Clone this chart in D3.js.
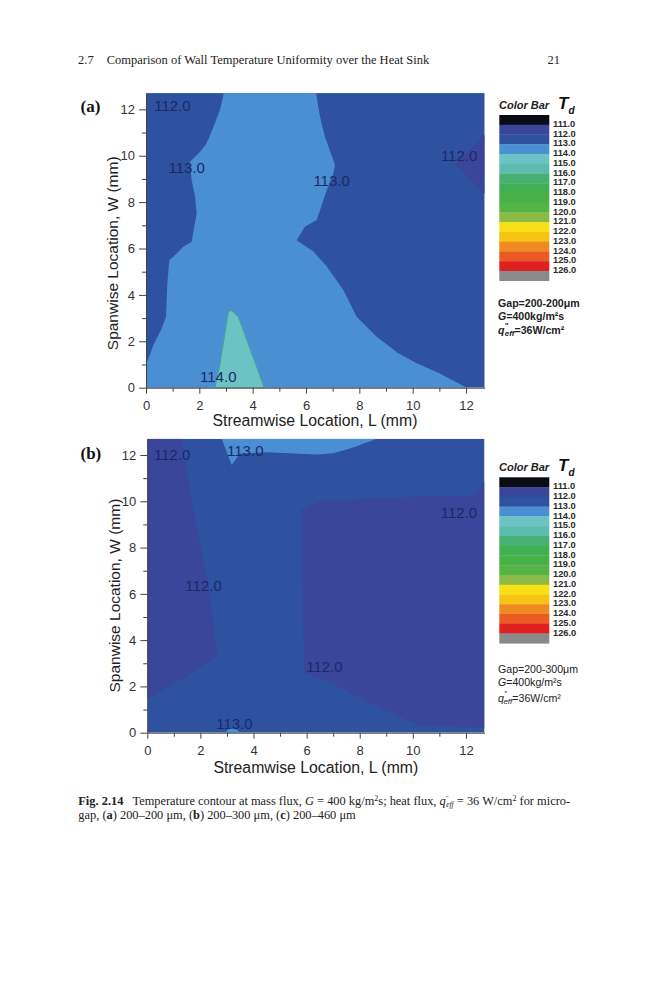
<!DOCTYPE html>
<html><head><meta charset="utf-8">
<script src="https://cdn.jsdelivr.net/npm/d3@7/dist/d3.min.js"></script>
<style>body{margin:0;background:#fff} svg{display:block}</style>
</head><body>
<svg id="c" width="659" height="1000"></svg>
<script>
// ---------------- DATA ----------------
const xTicks = [0, 2, 4, 6, 8, 10, 12];
const yTicks = [0, 2, 4, 6, 8, 10, 12];
const minorTicks = [1, 3, 5, 7, 9, 11];
const axisMax = 12.7;                       // mm, extent of both axes
const colorLevels = [111,112,113,114,115,116,117,118,119,120,121,122,123,124,125,126];
const bandColors = ['#0b0b14','#3a469a','#2e52a0','#4a8fd2','#6cc3c4','#5dbcb0','#47b073','#41b052',
                    '#48b14a','#55b446','#8bbb45','#f7e116','#f6c412','#ef8a22','#ea5a22','#df2020','#8a8a8a'];

// Panel (a): Gap 200-200 µm  — region boundary vertices [L (mm), W (mm)]
const aBackgroundT = 112.5;
const aRegion113 = [[0,0],[0,0.98],[0.3,1.9],[0.59,2.56],[0.75,3.06],[0.8,4.5],[0.875,5.5],[1.09,5.72],[1.4,6.08],
  [1.71,6.29],[1.9,7.51],[1.84,8.23],[1.71,8.95],[1.65,9.74],[2.03,10.17],[2.27,10.53],[2.53,11.25],[2.77,11.97],
  [2.92,12.7],[6.375,12.7],[6.525,11.68],[6.71,10.82],[7.09,9.6],[7.03,9.24],[6.78,8.52],[6.4,7.23],[5.96,6.94],
  [5.65,6.36],[6.29,5.86],[6.78,5.22],[7.4,4.21],[7.9,3.06],[8.65,2.2],[9.46,1.48],[10.15,1.05],[11.0,0.62],[12.03,0]];
const aRegion114 = [[2.59,0],[2.78,1.05],[3.09,3.28],[3.21,3.32],[3.46,3.06],[4.43,0]];
const aRegion111 = [[12.7,10.9],[11.59,9.64],[12.7,8.35]];
const aRegionT = [113.5, 114.5, 111.5];
const aLabelText = ['112.0','113.0','113.0','112.0','114.0'];
const aLabelL = [0.99, 1.525, 6.96, 11.74, 2.71];
const aLabelW = [12.18, 9.5, 8.92, 10.03, 0.47];
const aInfo = ['Gap=200-200\u03bcm', 'G', '=400kg/m\u00b2s', '=36W/cm\u00b2'];

// Panel (b): Gap 200-300 µm
const bBackgroundT = 112.5;
const bRegionLeft111 = [[0,12.7],[1.30,12.7],[1.54,10.85],[1.92,8.54],[2.30,6.38],[2.55,4.22],[2.64,3.3],[1.5,2.45],[0,1.45]];
const bRegionRight111 = [[5.81,9.65],[6.5,10.0],[9.9,10.2],[12.3,10.25],[12.7,10.85],[12.7,0.2],[10.3,0.3],
  [8.4,1.25],[7.0,2.1],[5.9,2.6]];
const bRegionTop113 = [[2.80,12.7],[3.18,11.57],[3.49,12.07],[4.5,12.12],[6.4,12.02],[7.0,12.08],[7.7,12.3],[8.64,12.7]];
const bRegionBottom113 = [[2.9,0],[3.1,0.18],[3.35,0.15],[3.5,0]];
const bRegionT = [111.5, 111.5, 113.5, 113.5];
const bLabelText = ['112.0','113.0','112.0','112.0','112.0','113.0'];
const bLabelL = [0.94, 3.69, 11.74, 2.12, 6.67, 3.28];
const bLabelW = [12.0, 12.19, 9.51, 6.34, 2.85, 0.40];
const bInfo = ['Gap=200-300\u03bcm', 'G', '=400kg/m\u00b2s', '=36W/cm\u00b2'];

// ---------------- DRAWING ----------------
const sans = "'Liberation Sans', Arial, Helvetica, sans-serif";
const serif = "'Liberation Serif', 'Times New Roman', Times, serif";
const svg = d3.select('#c');
const color = d3.scaleThreshold().domain(colorLevels).range(bandColors);

// running header
svg.append('text').attr('x', 78).attr('y', 64).attr('font-family', serif).attr('font-size', 12.5)
  .attr('fill', '#222').text('2.7');
svg.append('text').attr('x', 106.7).attr('y', 64).attr('font-family', serif).attr('font-size', 12.5)
  .attr('fill', '#222').text('Comparison of Wall Temperature Uniformity over the Heat Sink');
svg.append('text').attr('x', 560).attr('y', 64).attr('text-anchor', 'end').attr('font-family', serif)
  .attr('font-size', 12.5).attr('fill', '#222').text('21');

function drawPanel(p) {
  const g = svg.append('g');
  const x = d3.scaleLinear().domain([0, axisMax]).range([p.x0, p.x1]);
  const y = d3.scaleLinear().domain([0, axisMax]).range([p.y0, p.y1]);
  const clipId = 'clip' + p.tag;
  g.append('clipPath').attr('id', clipId).append('rect')
    .attr('x', x(0)).attr('y', y(axisMax)).attr('width', x(axisMax) - x(0)).attr('height', y(0) - y(axisMax));
  const plot = g.append('g').attr('clip-path', `url(#${clipId})`);
  plot.append('rect').attr('x', x(0)).attr('y', y(axisMax)).attr('width', x(axisMax) - x(0))
    .attr('height', y(0) - y(axisMax)).attr('fill', color(p.bgT));
  const line = d3.line().x(d => x(d[0])).y(d => y(d[1]));
  p.regions.forEach((pts, i) => {
    plot.append('path').attr('d', line(pts) + 'Z').attr('fill', color(p.regionT[i]))
      .attr('stroke', p.regionT[i] > 114 ? '#4aa592' : 'none').attr('stroke-width', 1);
  });
  // contour labels
  plot.selectAll('text.cl').data(p.labelText).join('text').attr('class', 'cl')
    .attr('x', (d, i) => x(p.labelL[i])).attr('y', (d, i) => y(p.labelW[i]))
    .attr('text-anchor', 'middle').attr('dominant-baseline', 'central')
    .attr('font-family', sans).attr('font-size', 15).attr('fill', '#1c2868').text(d => d);

  // axes
  const styleAxis = sel => {
    sel.selectAll('path.domain').attr('stroke', '#444');
    sel.selectAll('.tick line').attr('stroke', '#444');
    sel.selectAll('.tick text').attr('font-family', sans).attr('font-size', 13).attr('fill', '#333');
  };
  g.append('g').attr('transform', `translate(0,${p.y0})`)
    .call(d3.axisBottom(x).tickValues(minorTicks).tickSize(4).tickFormat(''))
    .call(s => s.select('.domain').remove()).call(styleAxis);
  g.append('g').attr('transform', `translate(${p.x0},0)`)
    .call(d3.axisLeft(y).tickValues(minorTicks).tickSize(4).tickFormat(''))
    .call(s => s.select('.domain').remove()).call(styleAxis);
  g.append('g').attr('transform', `translate(0,${p.y0})`)
    .call(d3.axisBottom(x).tickValues(xTicks).tickSize(6).tickSizeOuter(0).tickPadding(7).tickFormat(d3.format('d')))
    .call(styleAxis);
  g.append('g').attr('transform', `translate(${p.x0},0)`)
    .call(d3.axisLeft(y).tickValues(yTicks).tickSize(7).tickSizeOuter(0).tickPadding(4).tickFormat(d3.format('d')))
    .call(styleAxis);

  // axis titles
  g.append('text').attr('x', p.xTitleX).attr('y', p.xTitleY).attr('text-anchor', 'middle')
    .attr('font-family', sans).attr('font-size', 15.8).attr('fill', '#222').text('Streamwise Location, L (mm)');
  g.append('text').attr('transform', `translate(${p.yTitleX},${p.yTitleY}) rotate(-90)`).attr('text-anchor', 'middle')
    .attr('font-family', sans).attr('font-size', 15.5).attr('fill', '#222').text('Spanwise Location, W (mm)');
  // panel tag
  g.append('text').attr('x', 80.5).attr('y', p.tagY).attr('font-family', serif).attr('font-weight', 'bold')
    .attr('font-size', 17).attr('fill', '#111').text(`(${p.tag})`);

  // colour bar
  const cb = d3.scaleLinear().domain([110, 127]).range([p.cbTop, p.cbBottom]);
  g.selectAll('rect.band').data(bandColors).join('rect').attr('class', 'band')
    .attr('x', 499.3).attr('width', 50).attr('y', (d, i) => cb(110 + i))
    .attr('height', (d, i) => cb(111 + i) - cb(110 + i) + 0.3).attr('fill', d => d);
  g.selectAll('text.lev').data(colorLevels).join('text').attr('class', 'lev')
    .attr('x', 553).attr('y', d => cb(d) - 0.8).attr('dominant-baseline', 'central')
    .attr('font-family', sans).attr('font-weight', 'bold').attr('font-size', 9.3).attr('fill', '#2a2a2a')
    .text(d => d.toFixed(1));
  g.append('text').attr('x', 499).attr('y', p.cbTop - 6).attr('font-family', sans).attr('font-style', 'italic')
    .attr('font-weight', 'bold').attr('font-size', 11).attr('fill', '#222').text('Color Bar');
  const td = g.append('text').attr('x', 558).attr('y', p.cbTop - 6).attr('font-family', sans)
    .attr('font-style', 'italic').attr('font-weight', 'bold').attr('fill', '#111');
  td.append('tspan').attr('font-size', 17).text('T');
  td.append('tspan').attr('font-size', 10).attr('dy', 5).text('d');

  // info text
  const fw = p.infoBold ? 'bold' : 'normal';
  const info = p.info;
  g.append('text').attr('x', 498).attr('y', p.infoY[0]).attr('font-family', sans).attr('font-weight', fw)
    .attr('font-size', 10.6).attr('fill', '#222').text(info[0]);
  const t2 = g.append('text').attr('x', 498).attr('y', p.infoY[1]).attr('font-family', sans).attr('font-weight', fw)
    .attr('font-size', 10.6).attr('fill', '#222');
  t2.append('tspan').attr('font-style', 'italic').text(info[1]);
  t2.append('tspan').text(info[2]);
  const t3 = g.append('text').attr('x', 498).attr('y', p.infoY[2]).attr('font-family', sans).attr('font-weight', fw)
    .attr('font-size', 10.6).attr('fill', '#222');
  t3.append('tspan').attr('font-style', 'italic').text('q');
  t3.append('tspan').attr('font-size', 7).attr('dy', -6).attr('dx', 0.5).text('\u2033');
  t3.append('tspan').attr('font-style', 'italic').attr('font-size', 8).attr('dy', 8).attr('dx', -3.5).text('eff');
  t3.append('tspan').attr('dy', -2).text(info[3]);
}

drawPanel({
  tag: 'a', x0: 146, x1: 484.7, y0: 387.7, y1: 93.1, bgT: aBackgroundT,
  regions: [aRegion113, aRegion114, aRegion111], regionT: aRegionT,
  labelText: aLabelText, labelL: aLabelL, labelW: aLabelW,
  xTitleX: 315, xTitleY: 425.5, yTitleX: 117.5, yTitleY: 253.3, tagY: 112,
  cbTop: 115, cbBottom: 280.7, info: aInfo, infoBold: true, infoY: [306.7, 320, 333.5]
});
drawPanel({
  tag: 'b', x0: 147.3, x1: 484.5, y0: 732.7, y1: 438.8, bgT: bBackgroundT,
  regions: [bRegionLeft111, bRegionRight111, bRegionTop113, bRegionBottom113], regionT: bRegionT,
  labelText: bLabelText, labelL: bLabelL, labelW: bLabelW,
  xTitleX: 315.8, xTitleY: 773, yTitleX: 119.5, yTitleY: 595.6, tagY: 459,
  cbTop: 477.3, cbBottom: 643.3, info: bInfo, infoBold: false, infoY: [673.3, 686, 702]
});

// caption
const cap1 = svg.append('text').attr('x', 78.3).attr('y', 805).attr('font-family', serif)
  .attr('font-size', 12.4).attr('fill', '#222');
cap1.append('tspan').attr('font-weight', 'bold').text('Fig. 2.14');
cap1.append('tspan').text('\u2002 Temperature contour at mass flux, ');
cap1.append('tspan').attr('font-style', 'italic').text('G');
cap1.append('tspan').text(' = 400 kg/m');
cap1.append('tspan').attr('font-size', 8).attr('dy', -4).text('2');
cap1.append('tspan').attr('dy', 4).text('s; heat flux, ');
cap1.append('tspan').attr('font-style', 'italic').text('q');
cap1.append('tspan').attr('font-size', 7).attr('dy', -5).text('\u2033');
cap1.append('tspan').attr('font-style', 'italic').attr('font-size', 7.5).attr('dy', 7).attr('dx', -2.5).text('eff');
cap1.append('tspan').attr('dy', -2).text(' = 36 W/cm');
cap1.append('tspan').attr('font-size', 8).attr('dy', -4).text('2');
cap1.append('tspan').attr('dy', 4).text(' for micro-');
const w1 = cap1.node().getComputedTextLength();
const target = 560 - 78.3;
const spaces = 14;
if (w1 < target) cap1.attr('word-spacing', ((target - w1) / spaces).toFixed(2));

const cap2 = svg.append('text').attr('x', 78.3).attr('y', 818.5).attr('font-family', serif)
  .attr('font-size', 12.4).attr('fill', '#222');
cap2.append('tspan').text('gap, (');
cap2.append('tspan').attr('font-weight', 'bold').text('a');
cap2.append('tspan').text(') 200\u2013200 \u03bcm, (');
cap2.append('tspan').attr('font-weight', 'bold').text('b');
cap2.append('tspan').text(') 200\u2013300 \u03bcm, (');
cap2.append('tspan').attr('font-weight', 'bold').text('c');
cap2.append('tspan').text(') 200\u2013460 \u03bcm');
</script>
</body></html>
